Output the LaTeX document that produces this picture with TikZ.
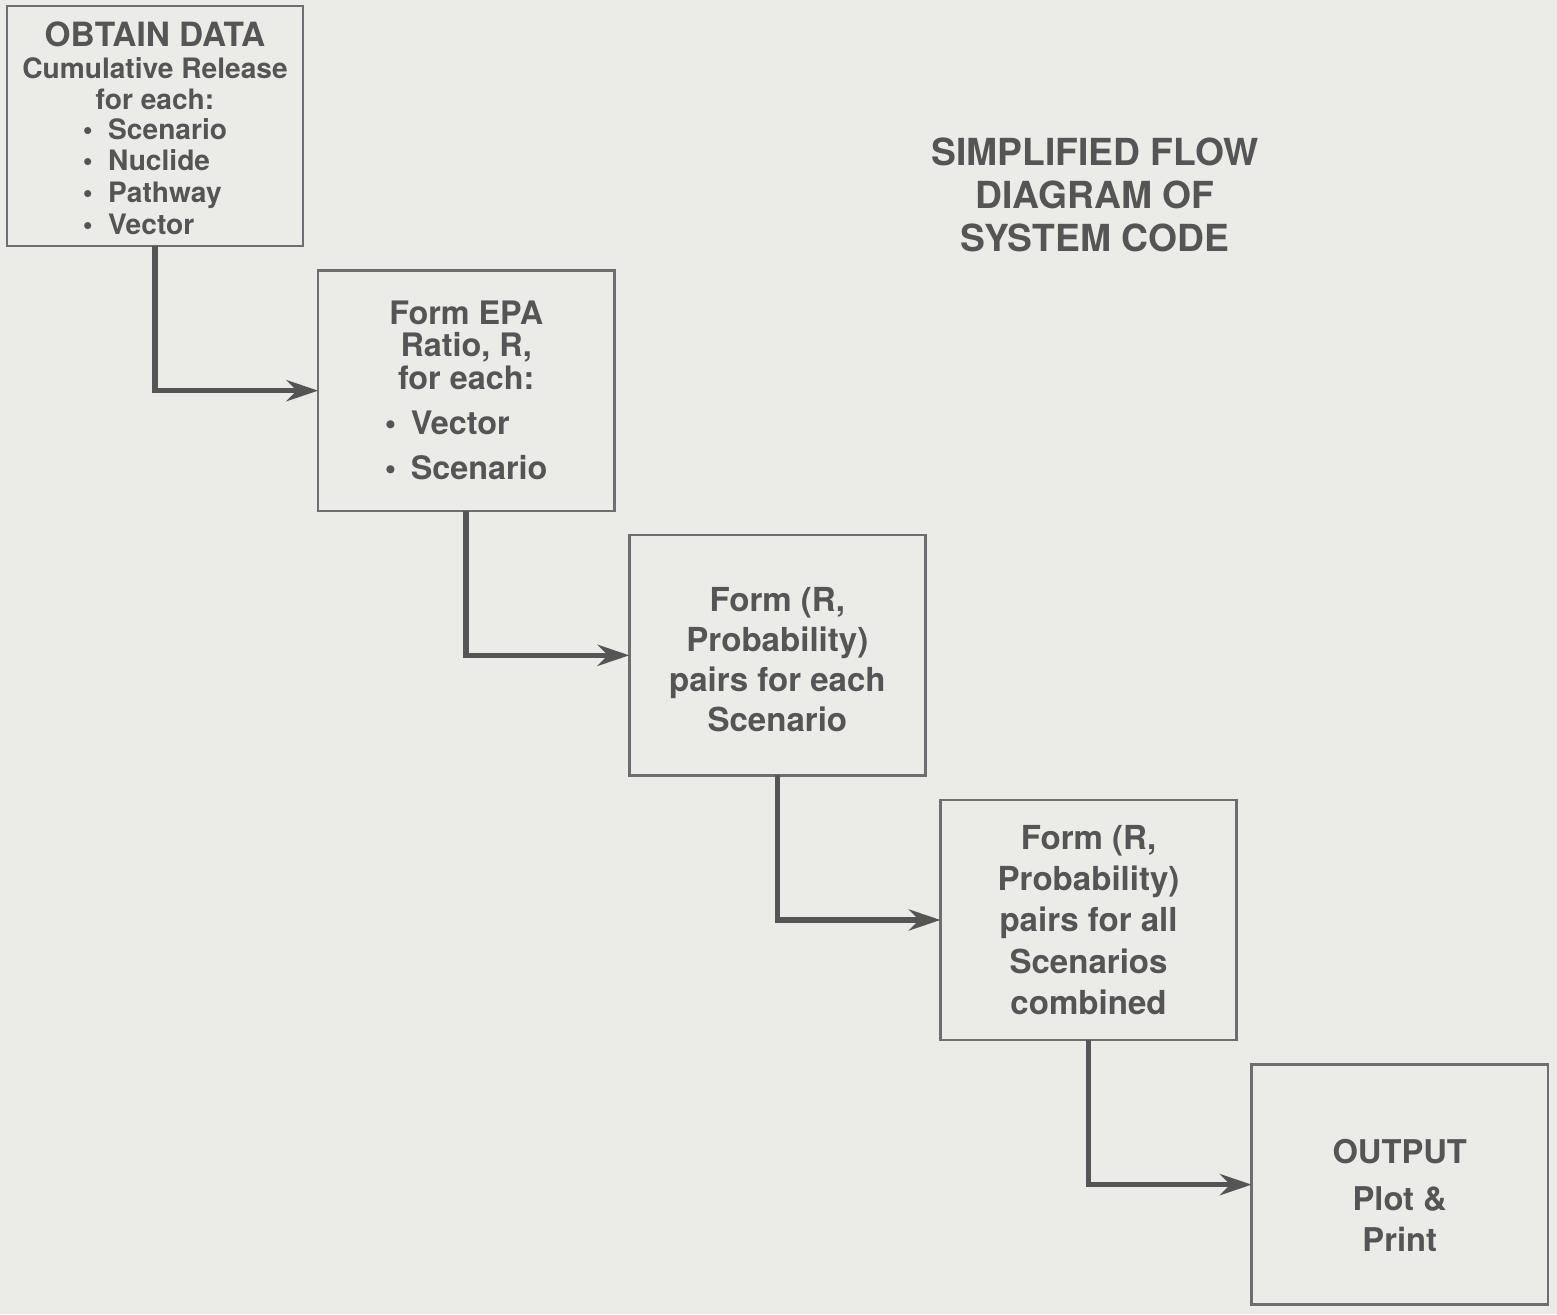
\documentclass[tikz,border=0pt]{standalone}
\usepackage{fontspec}
\setmainfont{TeX Gyre Heros}
\usepackage{tikz}
\usetikzlibrary{positioning}
\usetikzlibrary{arrows.meta}
\definecolor{paper}{HTML}{EBEBE7}
\definecolor{ink}{HTML}{555555}
\newcommand{\topgap}[1]{\rule{0pt}{#1}}
\tikzset{
  stage/.style={shape=rectangle,draw=ink!85,line width=0.7pt,minimum width=2.96cm,
    minimum height=2.4cm,inner sep=0pt,outer sep=0pt,align=center,text=ink},
  flow/.style={draw=ink,line width=1.6pt,-{Stealth[length=9pt,width=6pt]}},
  heading/.style={align=center,text=ink,font=\bfseries\fontsize{10.6}{12.2}\selectfont}
}
\begin{document}
\begin{tikzpicture}[x=0.01cm,y=-0.01cm,node distance=0.245cm and 0.15cm]
    \fill[paper] (0,0) rectangle (1557,1314);
    \node[stage,font=\bfseries\fontsize{8}{9}\selectfont] (s1) at (155,126)
      {\topgap{10.8pt}{\fontsize{9.5}{9}\selectfont OBTAIN DATA}\\Cumulative Release\\for each:\\[1pt]
       \begin{tabular}{@{}l@{}}\textbullet\hspace{0.55em}Scenario\\\textbullet\hspace{0.55em}Nuclide\\
       \textbullet\hspace{0.55em}Pathway\\\textbullet\hspace{0.55em}Vector\end{tabular}};
    \node[stage,below right=of s1,font=\bfseries\fontsize{9.2}{9.3}\selectfont] (s2)
      {\topgap{10pt}Form EPA\\Ratio, R,\\for each:\\[3pt]
       \renewcommand{\arraystretch}{1.35}%
       \begin{tabular}{@{}l@{}}\textbullet\hspace{0.45em}Vector\\\textbullet\hspace{0.45em}Scenario\end{tabular}};
    \node[stage,below right=of s2,font=\bfseries\fontsize{9.4}{11.4}\selectfont] (s3)
      {\topgap{9.5pt}Form (R,\\Probability)\\pairs for each\\Scenario};
    \node[stage,below right=of s3,font=\bfseries\fontsize{9.4}{11.7}\selectfont] (s4)
      {Form (R,\\Probability)\\pairs for all\\Scenarios\\combined};
    \node[stage,below right=of s4,font=\bfseries\fontsize{9.3}{11.4}\selectfont] (s5)
      {\topgap{13pt}OUTPUT\\[2pt]Plot \&\\Print};
    \node[heading] (title) at (1095,195) {SIMPLIFIED FLOW\\DIAGRAM OF\\SYSTEM CODE};
    \draw[flow] (s1.south) |- (s2.west);
    \draw[flow] (s2.south) |- (s3.west);
    \draw[flow] (s3.south) |- (s4.west);
    \draw[flow] (s4.south) |- (s5.west);
\end{tikzpicture}
\end{document}
